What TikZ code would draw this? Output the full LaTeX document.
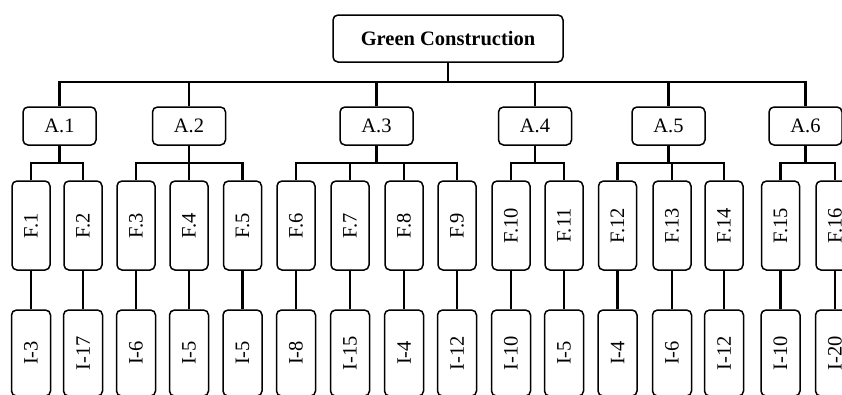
\documentclass[tikz,border=0pt]{standalone}
\usepackage{fontspec}
\setmainfont{Liberation Serif}
\begin{document}
\begin{tikzpicture}[x=1pt,y=-1pt,
  box/.style={draw,rectangle,rounded corners=5pt,line width=1.5pt,inner sep=0pt,
    font=\fontsize{20.5}{24}\selectfont},
  rootbox/.style={box,minimum width=230pt,minimum height=47pt,font=\fontsize{20.5}{24}\selectfont\bfseries},
  abox/.style={box,minimum width=73pt,minimum height=38pt},
  fbox/.style={box,minimum width=38pt,minimum height=89pt},
  ibox/.style={box,minimum width=39pt,minimum height=86pt},
  vlab/.style={rotate=90},
  conn/.style={line width=2.2pt}]
\path[use as bounding box,clip] (0,0) rectangle (842,394);
\coordinate (busA) at (0,82);
\coordinate (busF) at (0,163);
\node[rootbox] (root) at (448,38.5) {Green Construction};
\foreach \n/\x in {1/59.5,2/189,3/376.5,4/535,5/668.5,6/805.5}
  \node[abox] (a\n) at (\x,126) {A.\n};
\foreach \n/\x/\i in {1/31/3,2/83/17,3/136/6,4/189/5,5/242.5/5,6/296/8,7/350/15,8/404/4,
  9/457/12,10/511/10,11/564/5,12/617.5/4,13/672/6,14/724/12,15/780.5/10,16/835/20}{
  \node[fbox] (f\n) at (\x,225.5) {\rotatebox{90}{F.\n}};
  \node[ibox] (i\n) at (\x,353) {\rotatebox{90}{I-\i}};
  \draw[conn] (f\n.south) -- (i\n.north);
}
% top bus
\draw[conn] (root.south) -- (root.south |- busA);
\draw[conn] (a1.north) -- (a1.north |- busA) -- (a6.north |- busA) -- (a6.north);
\foreach \n in {2,3,4,5}
  \draw[conn] (a\n.north) -- (a\n.north |- busA);
% lower buses
\foreach \a/\fa/\fb in {1/1/2,2/3/5,3/6/9,4/10/11,5/12/14,6/15/16}{
  \draw[conn] (a\a.south) -- (a\a.south |- busF);
  \draw[conn] (f\fa.north) -- (f\fa.north |- busF) -- (f\fb.north |- busF) -- (f\fb.north);
}
\foreach \n in {4,7,8,13}
  \draw[conn] (f\n.north) -- (f\n.north |- busF);
\end{tikzpicture}
\end{document}
